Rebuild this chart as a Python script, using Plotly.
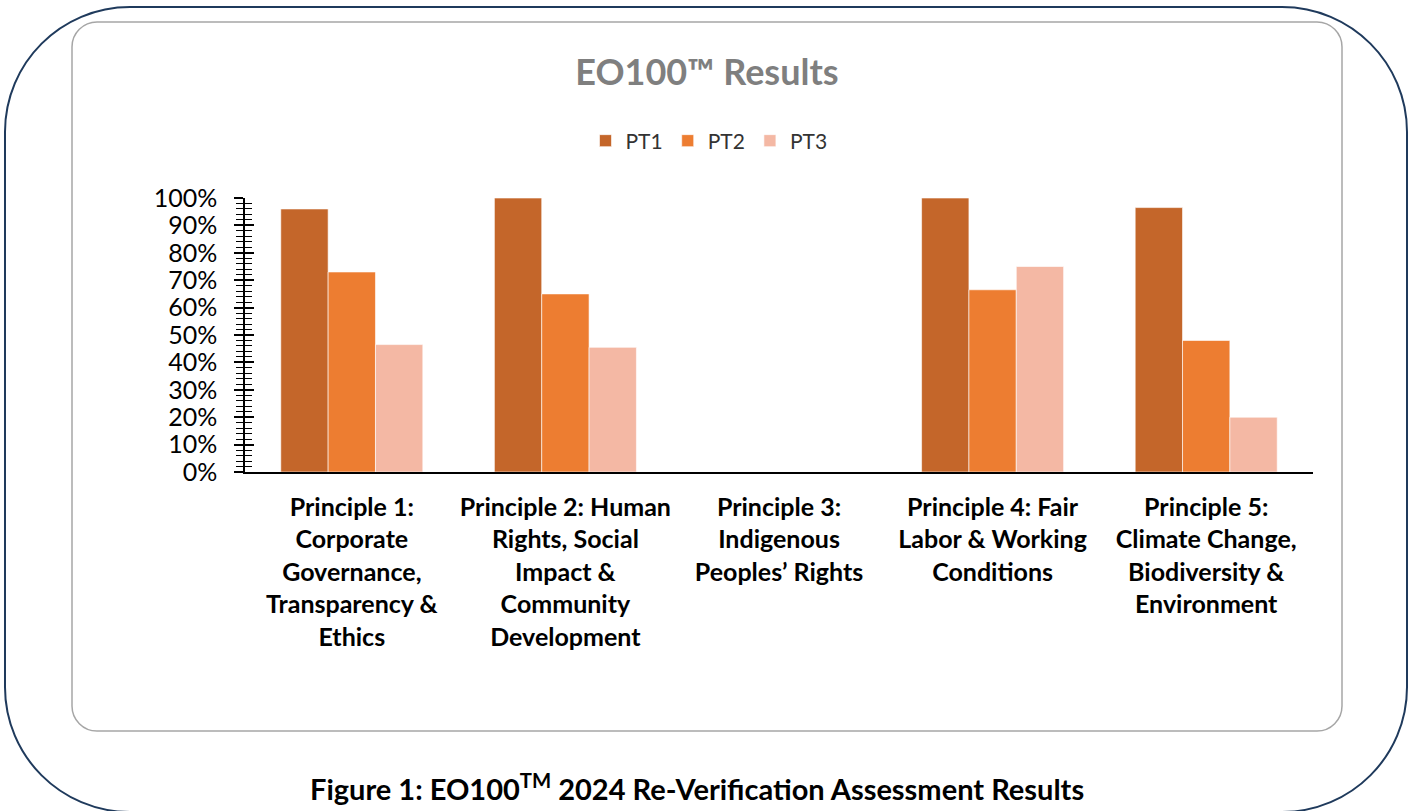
import plotly.graph_objects as go

W, H = 1411, 811

categories = [
    "<b>Principle 1:<br>Corporate<br>Governance,<br>Transparency &<br>Ethics</b>",
    "<b>Principle 2: Human<br>Rights, Social<br>Impact &<br>Community<br>Development</b>",
    "<b>Principle 3:<br>Indigenous<br>Peoples’ Rights</b>",
    "<b>Principle 4: Fair<br>Labor & Working<br>Conditions</b>",
    "<b>Principle 5:<br>Climate Change,<br>Biodiversity &<br>Environment</b>",
]
series_names = ["PT1", "PT2", "PT3"]
pt1 = [0.96, 1.00, None, 1.00, 0.965]
pt2 = [0.73, 0.65, None, 0.665, 0.48]
pt3 = [0.465, 0.455, None, 0.75, 0.20]
colors = ["#C4662A", "#ED7D31", "#F4B8A4"]

FONT = "Lato"

fig = go.Figure()
for name, vals, col in zip(series_names, [pt1, pt2, pt3], colors):
    fig.add_trace(go.Bar(
        name=name, x=list(range(len(categories))), y=vals,
        marker=dict(color=col, line=dict(color="rgba(255,255,255,0.6)", width=1)),
    ))
# empty helper trace so the mirrored tick axis (inner tick marks) is drawn
fig.add_trace(go.Scatter(x=[None], y=[None], yaxis="y2", showlegend=False,
                         hoverinfo="skip", mode="markers"))


def px(x):
    return x / W


def py(y):
    return 1 - y / H


def rounded_path(x0, y0, x1, y1, r):
    k = 0.5523 * r
    pts = [
        ("M", [(x0 + r, y0)]),
        ("L", [(x1 - r, y0)]),
        ("C", [(x1 - r + k, y0), (x1, y0 + r - k), (x1, y0 + r)]),
        ("L", [(x1, y1 - r)]),
        ("C", [(x1, y1 - r + k), (x1 - r + k, y1), (x1 - r, y1)]),
        ("L", [(x0 + r, y1)]),
        ("C", [(x0 + r - k, y1), (x0, y1 - r + k), (x0, y1 - r)]),
        ("L", [(x0, y0 + r)]),
        ("C", [(x0, y0 + r - k), (x0 + r - k, y0), (x0 + r, y0)]),
    ]
    s = ""
    for cmd, ps in pts:
        s += cmd + " " + " ".join(f"{px(a):.5f},{py(b):.5f}" for a, b in ps) + " "
    return s + "Z"


shapes = [
    dict(type="path", xref="paper", yref="paper",
         path=rounded_path(5, 7, 1407, 812, 125),
         line=dict(color="#1F3A5C", width=2), layer="below"),
    dict(type="path", xref="paper", yref="paper",
         path=rounded_path(72, 22, 1342, 731, 25),
         line=dict(color="#A6A6A6", width=1.5), layer="below"),
]

xd = [px(245), px(1313)]
yd = [py(472), py(198)]

fig.update_layout(
    width=W, height=H,
    margin=dict(l=0, r=0, t=0, b=0, pad=0, autoexpand=False),
    paper_bgcolor="white", plot_bgcolor="white",
    barmode="group", bargap=0.335, bargroupgap=0,
    shapes=shapes,
    title=dict(text="<b>EO100™ Results</b>", x=px(707), xanchor="center",
               y=py(72), yanchor="middle", automargin=False,
               font=dict(family=FONT, size=36, color="#7F7F7F")),
    legend=dict(orientation="h", x=px(709), xanchor="center", y=py(141), yanchor="middle",
                font=dict(family=FONT, size=21, color="#333333"),
                itemwidth=30, bgcolor="rgba(0,0,0,0)"),
    xaxis=dict(domain=xd, anchor="y", tickmode="array", automargin=False,
               tickvals=list(range(len(categories))), ticktext=categories,
               range=[-0.5, len(categories) - 0.5],
               showline=True, linecolor="black", linewidth=1.5,
               showgrid=False, zeroline=False, ticks="",
               ticklabelstandoff=12,
               tickfont=dict(family=FONT, size=25, color="black")),
    yaxis=dict(domain=yd, range=[0, 1], tickformat=".0%", dtick=0.1, tick0=0,
               automargin=False,
               showline=True, linecolor="black", linewidth=1.5,
               showgrid=False, zeroline=False,
               ticks="outside", ticklen=9, tickwidth=1.5, tickcolor="black",
               minor=dict(dtick=0.02, ticks="outside", ticklen=7, tickwidth=1.2,
                          tickcolor="black", showgrid=False),
               ticklabelstandoff=12,
               tickfont=dict(family=FONT, size=25, color="black")),
    yaxis2=dict(domain=yd, range=[0, 1], overlaying="y", side="left", anchor="x",
                automargin=False,
                dtick=0.1, tick0=0, showline=False, showgrid=False, zeroline=False,
                showticklabels=False,
                ticks="inside", ticklen=9, tickwidth=1.5, tickcolor="black",
                minor=dict(dtick=0.02, ticks="inside", ticklen=7, tickwidth=1.2,
                           tickcolor="black", showgrid=False)),
    annotations=[dict(
        text="<b>Figure 1: EO100<sup>TM</sup> 2024 Re-Verification Assessment Results</b>",
        xref="paper", yref="paper", x=px(697), y=py(787),
        xanchor="center", yanchor="middle", showarrow=False,
        font=dict(family=FONT, size=29, color="black"))],
)

fig.write_html("out.html", config={"displayModeBar": False},
               post_script="document.body.style.margin='0';")
